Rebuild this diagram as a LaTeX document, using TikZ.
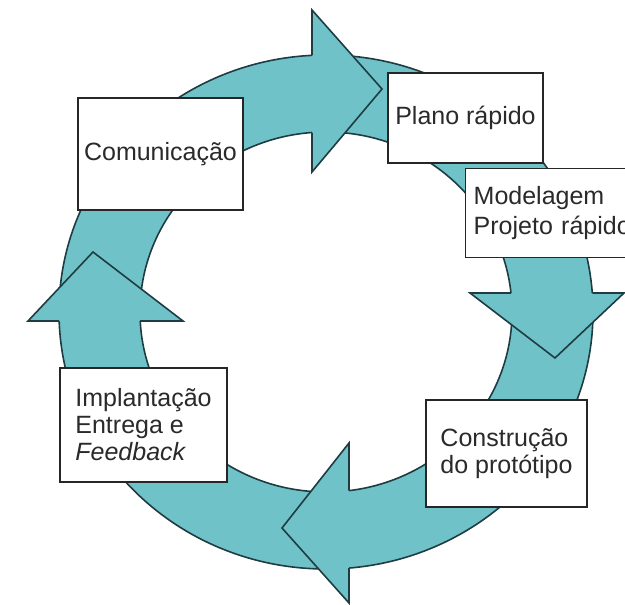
\documentclass[tikz,border=0pt]{standalone}
\usepackage{fontspec}
\setmainfont{Liberation Sans}
\definecolor{ringteal}{HTML}{6FC3C8}
\definecolor{ringline}{HTML}{1E3C42}
\definecolor{txt}{HTML}{2A2A2A}
\begin{document}
\begin{tikzpicture}[x=1pt,y=-1pt,
  ringpart/.style={fill=ringteal, draw=ringline, line width=1.6pt},
  box/.style={draw=black!85, line width=1.4pt, fill=white, text=txt,
    font=\fontsize{25}{27}\selectfont, inner sep=0pt}]
\clip (0,0) rectangle (625,605);
\coordinate (c) at (326,312);
% ring
\fill[ringteal, even odd rule] (c) ellipse [x radius=267, y radius=257]
      (c) ellipse [x radius=186, y radius=180];
\draw[ringline, line width=1.6pt] (c) ellipse [x radius=267, y radius=257]
      (c) ellipse [x radius=186, y radius=180];
% arrow heads
\filldraw[ringpart] (312,55.4) -- (312,10) -- (382,89) -- (312,172) -- (312,132.5);
\filldraw[ringpart] (511,293) -- (470,293) -- (555,358) -- (624,293) -- (592.3,293);
\filldraw[ringpart] (349,490.6) -- (349,443) -- (282,528) -- (349,603) -- (349,568);
\filldraw[ringpart] (59.2,321) -- (28,321) -- (93,252) -- (183,321) -- (140.2,321);
% boxes
\node[box, minimum width=165, minimum height=112, text width=155, align=center] (com) at (160.5,154) {Comunicação};
\node[box, minimum width=155, minimum height=90, align=center] (plano) at (465.5,118) {Plano rápido};
\node[box, anchor=north west, minimum height=89, text width=184, inner xsep=8,
      align=left, font=\fontsize{25}{30}\selectfont] (mod) at (465,168) {Modelagem\\Projeto rápido};
\node[box, minimum width=167, minimum height=114, align=left] (impl) at (143.5,425)
      {Implantação\\Entrega e\\\textit{Feedback}};
\node[box, minimum width=161, minimum height=107, align=left] (cons) at (506.5,453.5)
      {Construção\\do protótipo};
\end{tikzpicture}
\end{document}
